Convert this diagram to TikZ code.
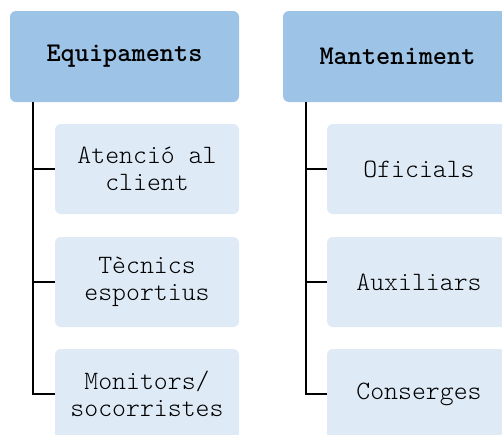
\documentclass[tikz,border=0pt]{standalone}
\usepackage{fontspec}
\definecolor{headblue}{RGB}{157,195,230}
\definecolor{itemblue}{RGB}{222,234,246}
\tikzset{
	headbox/.style={fill=headblue, rounded corners=6pt, minimum width=229pt, minimum height=91pt, inner sep=0pt, align=center, font=\ttfamily\bfseries\fontsize{27}{26}\selectfont},
	itembox/.style={fill=itemblue, rounded corners=6pt, minimum width=184pt, minimum height=90pt, inner sep=0pt, align=center, font=\ttfamily\fontseries{l}\fontsize{26.5}{26.5}\selectfont},
	branch/.style={draw=black, line width=2pt}
}

\begin{document}
\begin{tikzpicture}[x=1pt,y=-1pt]
	
	\clip (0,0) rectangle (502,434);
	\fill[white] (0,0) rectangle (502,434);
	
	% Equipaments
	\node[headbox] (equip) at (124.5,56.5) {Equipaments};
	\node[itembox] (aten) at (147,169) {Atenció al\\client};
	\node[itembox] (tecn) at (147,282) {Tècnics\\esportius};
	\node[itembox] (moni) at (147,394) {Monitors/\\socorristes};
	
	% Manteniment
	\node[headbox] (mant) at (397.5,56.5) {Manteniment};
	\node[itembox] (ofic) at (419,169) {Oficials};
	\node[itembox] (auxi) at (419,282) {Auxiliars};
	\node[itembox] (cons) at (419,394) {Conserges};
	
	% branques
	\draw[branch] ([xshift=23pt]equip.south west) |- (aten.west);
	\draw[branch] ([xshift=23pt]equip.south west) |- (tecn.west);
	\draw[branch] ([xshift=23pt]equip.south west) |- (moni.west);
	\draw[branch] ([xshift=23pt]mant.south west) |- (ofic.west);
	\draw[branch] ([xshift=23pt]mant.south west) |- (auxi.west);
	\draw[branch] ([xshift=23pt]mant.south west) |- (cons.west);
	
\end{tikzpicture}
\end{document}
